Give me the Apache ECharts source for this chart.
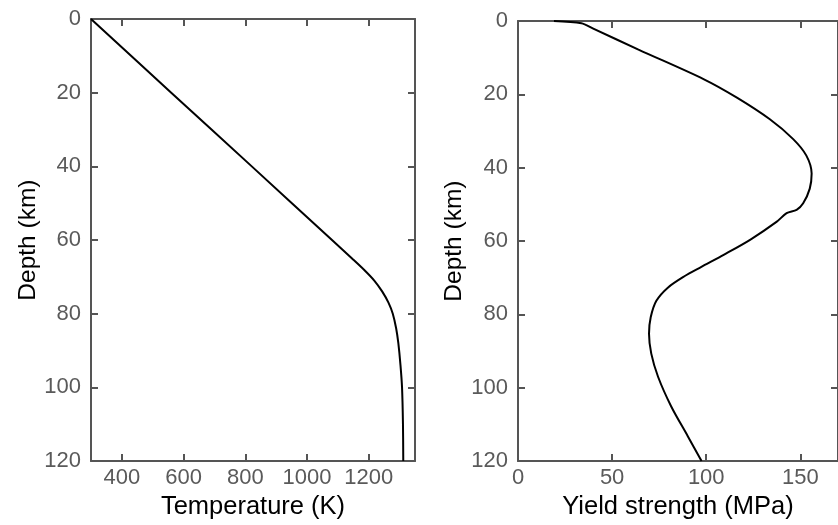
<!DOCTYPE html>
<html>
<head>
<meta charset="utf-8">
<script src="https://cdn.jsdelivr.net/npm/echarts@6/dist/echarts.min.js"></script>
<style>
  html, body { margin: 0; padding: 0; background: #fff; }
  #main { width: 838px; height: 525px; }
</style>
</head>
<body>
<div id="main"></div>
<script>
// left panel: geotherm
var tempDepth = [0, 20, 40, 60, 65, 68, 71, 74, 77, 80, 84, 88, 94, 100, 110, 120];
var tempK = [300, 560, 821, 1081, 1146, 1184, 1218, 1244, 1264, 1278, 1289, 1296, 1303, 1308, 1311, 1312];
var tempTicks = [400, 600, 800, 1000, 1200];

// right panel: yield strength envelope
var yieldDepth = [0, 0.6, 2.0, 7.8, 15.9, 20.9, 26.8, 32.2, 36.7, 41.6, 45.7, 49.7, 51.5, 52.4, 54.7, 59.6, 63.7, 67.1, 69.6, 72.7, 76.3, 80.8, 85.3, 90.7, 97, 105.1, 113.2, 120];
var yieldMPa = [19.1, 33.7, 39.7, 64.0, 98.8, 116.3, 133.8, 146.2, 153.2, 156.0, 155.0, 151.5, 148.0, 142.7, 137.5, 123.5, 109.5, 97.2, 88.4, 79.6, 73.5, 70.5, 69.6, 70.8, 74.4, 81.4, 90.2, 97.5];
var yieldTicks = [0, 50, 100, 150];

var depthTicks = [0, 20, 40, 60, 80, 100, 120];

var FONT = '"Liberation Sans", Arial, Helvetica, sans-serif';
var axisColor = '#555';
var labelColor = '#5a5a5a';

function pairs(xs, ys) {
  return xs.map(function (x, i) { return [x, ys[i]]; });
}

function plain(v) { return String(v); }

function xAx(grid, min, max, ticks, pos, name) {
  var main = pos === 'bottom';
  return {
    type: 'value', gridIndex: grid, position: pos, min: min, max: max,
    axisLine: { onZero: false, lineStyle: { color: axisColor, width: 2 } },
    axisTick: { inside: true, length: 7, customValues: ticks, lineStyle: { color: axisColor, width: 2 } },
    axisLabel: { show: main, customValues: ticks, formatter: plain, color: labelColor, fontSize: 22, fontFamily: FONT, margin: 6 },
    splitLine: { show: false },
    name: main ? name : '', nameLocation: 'middle', nameGap: 30,
    nameTextStyle: { color: '#000', fontSize: 25.5, fontFamily: FONT }
  };
}

function yAx(grid, pos, gap) {
  var main = pos === 'left';
  return {
    type: 'value', gridIndex: grid, position: pos, inverse: true, min: 0, max: 120,
    axisLine: { onZero: false, lineStyle: { color: axisColor, width: 2 } },
    axisTick: { inside: true, length: 7, customValues: depthTicks, lineStyle: { color: axisColor, width: 2 } },
    axisLabel: { show: main, customValues: depthTicks, formatter: plain, color: labelColor, fontSize: 22, fontFamily: FONT, margin: 10 },
    splitLine: { show: false },
    name: main ? 'Depth (km)' : '', nameLocation: 'middle', nameGap: gap,
    nameTextStyle: { color: '#000', fontSize: 24.5, fontFamily: FONT }
  };
}

var chart = echarts.init(document.getElementById('main'));
chart.setOption({
  animation: false,
  grid: [
    { left: 91, top: 19, width: 324, height: 443 },
    { left: 518, top: 21, width: 324, height: 443 }
  ],
  xAxis: [
    xAx(0, 300, 1350, tempTicks, 'bottom', 'Temperature (K)'),
    xAx(0, 300, 1350, tempTicks, 'top'),
    xAx(1, 0, 170, yieldTicks, 'bottom', 'Yield strength (MPa)'),
    xAx(1, 0, 170, yieldTicks, 'top')
  ],
  yAxis: [
    yAx(0, 'left', 49),
    yAx(0, 'right'),
    yAx(1, 'left', 51),
    yAx(1, 'right')
  ],
  series: [
    {
      type: 'line', xAxisIndex: 0, yAxisIndex: 0,
      data: pairs(tempK, tempDepth),
      smooth: 0.3, showSymbol: false,
      lineStyle: { color: '#000', width: 2 }
    },
    {
      type: 'line', xAxisIndex: 2, yAxisIndex: 2,
      data: pairs(yieldMPa, yieldDepth),
      smooth: 0.3, showSymbol: false,
      lineStyle: { color: '#000', width: 2 }
    }
  ]
});
</script>
</body>
</html>
